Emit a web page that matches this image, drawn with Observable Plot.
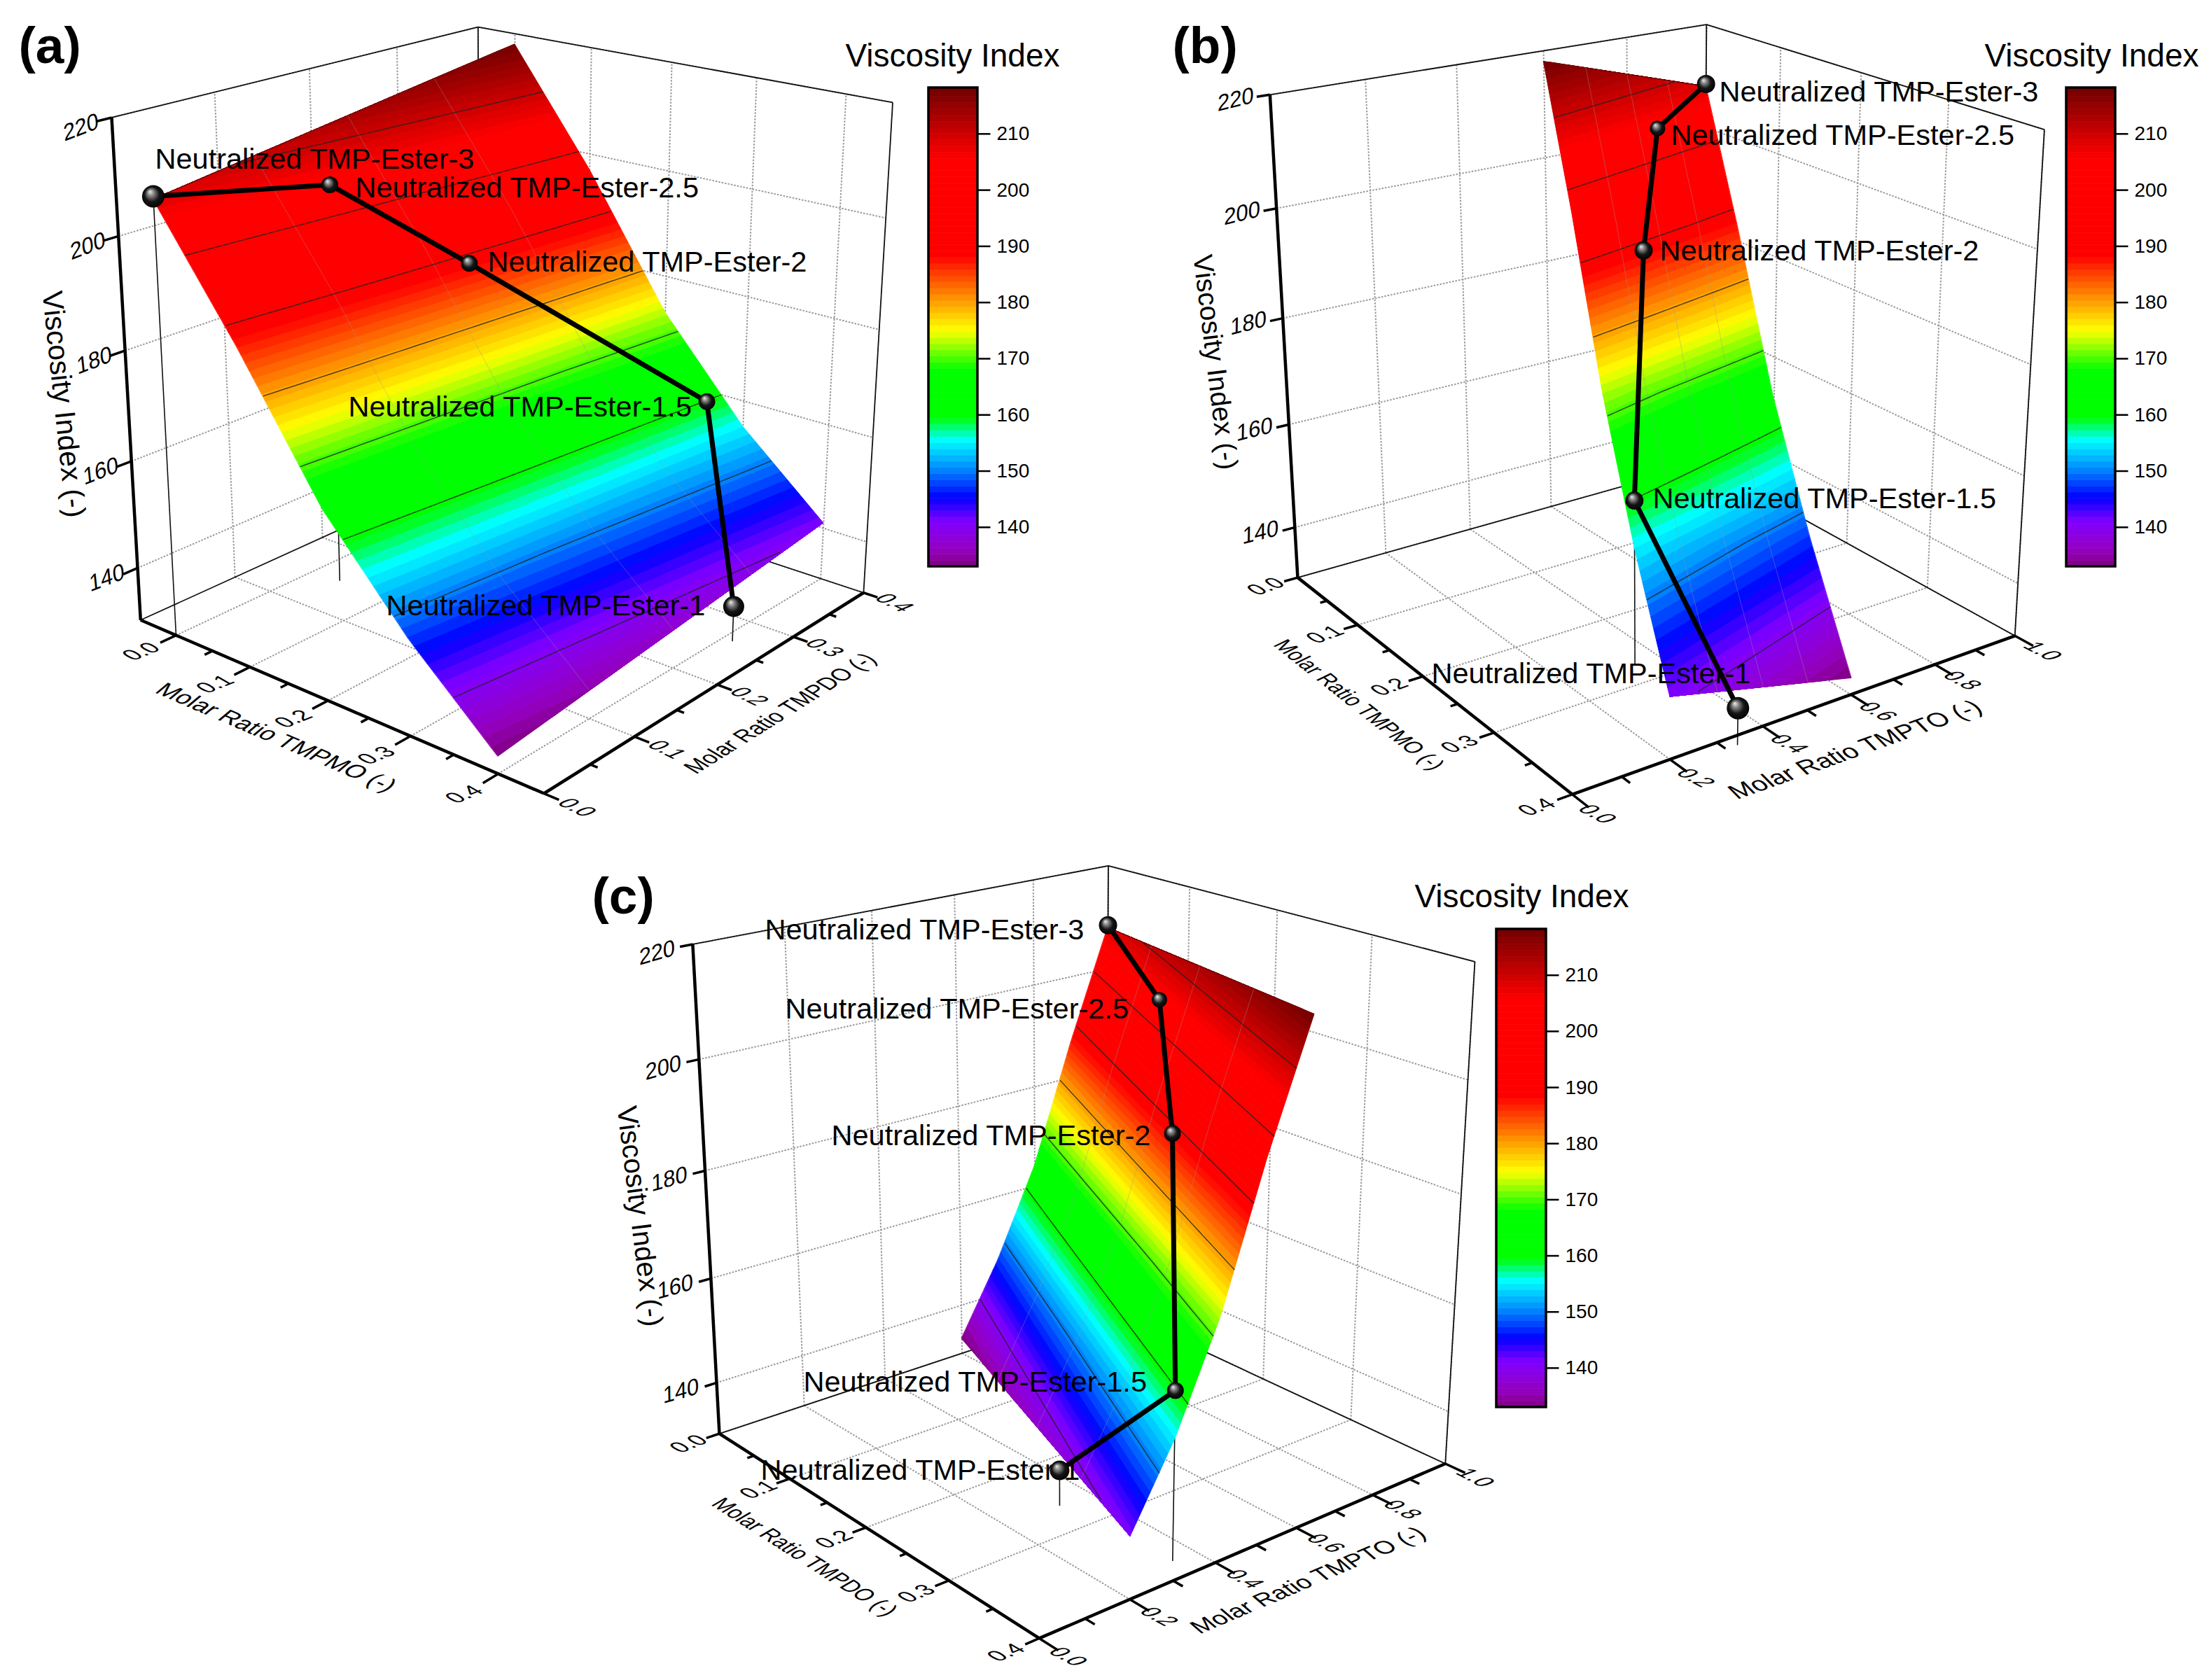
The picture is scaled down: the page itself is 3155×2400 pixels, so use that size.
<!DOCTYPE html>
<html><head><meta charset="utf-8">
<script src="https://cdn.jsdelivr.net/npm/d3@7"></script>
<script src="https://cdn.jsdelivr.net/npm/@observablehq/plot@0.6"></script>
<style>body{margin:0;background:#fff}#c{position:relative;width:3155px;height:2400px}</style>
</head><body><div id="c"></div>
<script>
const ratioTMPMO=[0,0.1,0.2,0.3,0.4];
const ratioTMPDO=[0,0.1,0.2,0.3,0.4];
const surfaceVI=[[208,210.5,213,215.5,218],[187,189.5,192,194.5,197],[164,166.25,168.5,170.75,173],[147,149,151,153,155],[133,135,137,139,141]];
const esterNames=["Neutralized TMP-Ester-1","Neutralized TMP-Ester-1.5","Neutralized TMP-Ester-2","Neutralized TMP-Ester-2.5","Neutralized TMP-Ester-3"];
const esterTMPMO=[0.411,0.273,0.111,0.036,0];
const esterTMPDO=[0.264,0.379,0.239,0.149,0];
const esterTMPTO=[0.324,0.346,0.648,0.813,1];
const esterVI=[136.6,160.1,188.1,204.3,208.5];
const viTicks=[140,160,180,200,220];
const legendTicks=[140,150,160,170,180,190,200,210];
const contourLevels=[140,150,160,170,180,190,200,210];
const rampStops=[133,136,141,145.3,150,155.5,159.5,168,175,180,188.3,205.5,218.2];
const rampColors=["#800080","#9500c0","#8000ff","#0000ff","#0080ff","#00ffff","#00ff00","#00ff00","#ffff00","#ffa000","#ff0000","#ff0000","#700000"];
const ramp=d3.scaleLinear().domain(rampStops).range(rampColors).interpolate(d3.interpolateRgb);
const bandStep=1.1, viMin=133, viMax=218.2;
const FONT="Liberation Sans";

function solve(A,b){const n=b.length;A=A.map((r,i)=>[...r,b[i]]);for(let i=0;i<n;i++){let p=i;for(let k=i+1;k<n;k++)if(Math.abs(A[k][i])>Math.abs(A[p][i]))p=k;[A[i],A[p]]=[A[p],A[i]];for(let k=i+1;k<n;k++){const f=A[k][i]/A[i][i];for(let j=i;j<=n;j++)A[k][j]-=f*A[i][j];}}const x=Array(n).fill(0);for(let i=n-1;i>=0;i--){let s=A[i][n];for(let j=i+1;j<n;j++)s-=A[i][j]*x[j];x[i]=s/A[i][i];}return x;}
function lsq(rows,rhs){const n=rows[0].length;const A=Array.from({length:n},()=>Array(n).fill(0)),b=Array(n).fill(0);rows.forEach((r,k)=>{for(let i=0;i<n;i++){b[i]+=r[i]*rhs[k];for(let j=0;j<n;j++)A[i][j]+=r[i]*r[j];}});return solve(A,b);}

function camera(p){
  const nx=u=>(u-p.uDom[0])/(p.uDom[1]-p.uDom[0]),ny=v=>(v-p.vDom[0])/(p.vDom[1]-p.vDom[0]),nz=w=>(w-p.wDom[0])/(p.wDom[1]-p.wDom[0]);
  const rows=[],rhs=[];
  for(const [u,v,w,x,y] of p.calib){const X=nx(u),Y=ny(v),Z=nz(w);
    rows.push([X,Y,Z,1,0,0,0,0,-x/1000*X,-x/1000*Y,-x/1000*Z]);rhs.push(x/1000);
    rows.push([0,0,0,0,X,Y,Z,1,-y/1000*X,-y/1000*Y,-y/1000*Z]);rhs.push(y/1000);}
  const c=lsq(rows,rhs);
  return (u,v,w)=>{const X=nx(u),Y=ny(v),Z=nz(w),d=c[8]*X+c[9]*Y+c[10]*Z+1;
    return [1000*(c[0]*X+c[1]*Y+c[2]*Z+c[3])/d,1000*(c[4]*X+c[5]*Y+c[6]*Z+c[7])/d];};
}
const panels=[
{letter:"(a)",letterAt:[26,66],uName:"Molar Ratio TMPMO (-)",vName:"Molar Ratio TMPDO (-)",
 uDom:[-0.05,0.45],vDom:[0,0.4],wDom:[130,220],uTicks:[0,0.1,0.2,0.3,0.4],uMinor:[0.05,0.15,0.25,0.35],vTicks:[0,0.1,0.2,0.3,0.4],vMinor:[0.05,0.15,0.25,0.35],
 map:(M,D,T)=>[M,D],tickU:0.016,tickV:0.016,labU:0.035,labV:0.035,titleU:0.526,titleV:-0.07,zLab:[-44,14],zRot:-21,uLabRot:-22,vLabRot:26,
 uSkew:-27,vSkew:27,uT:[35,26,0,1],vT:[36,-10,4,0.83],zTitle:[90,577,84,41],legend:{x1:1326,x2:1396,y1:125,y2:809,tx:1360,ty:80},
 calib:[[-0.05,0,130,199,885],[0.45,0,130,775,1139],[0.45,0.4,130,1235,847],[-0.05,0,220,158,169],[-0.05,0.4,220,682,36],[0.45,0.4,220,1275,147],
  [0,0,130,250,908],[0.2,0,130,469,998],[0.4,0,130,708,1098],[0.45,0.2,130,1025,980],[-0.05,0,200,168,336],[-0.05,0,180,179,500],[-0.05,0,160,189,660],[-0.05,0,140,197,813],
  [0,0.4,218,735,65],[0.4,0.4,141,1173,744],[0.4,0,133,714,1080],[0,0,208,219,282]],
 r:[15,12,12,12,16],
 labelAt:[[551,865],[497,581],[696,374],[507,268],[221,227]]},
{letter:"(b)",letterAt:[1674,66],uName:"Molar Ratio TMPMO (-)",vName:"Molar Ratio TMPTO (-)",
 uDom:[0,0.4],vDom:[0,1],wDom:[130,220],uTicks:[0,0.1,0.2,0.3,0.4],uMinor:[0.05,0.15,0.25,0.35],vTicks:[0,0.2,0.4,0.6,0.8,1],vMinor:[0.1,0.3,0.5,0.7,0.9],
 map:(M,D,T)=>[M,T],tickU:0.02,tickV:0.03,labU:0.03,labV:0.07,titleU:0.47,titleV:-0.15,zLab:[-49,7],zRot:-14,uLabRot:-20,vLabRot:28,
 uSkew:-26,vSkew:25,uT:[35,12,8,0.8],vT:[37,-22,-2,1],zTitle:[1735,517,83,39],legend:{x1:2951,x2:3021,y1:125,y2:809,tx:2987,ty:80},
 calib:[[0,0,130,1853,824],[0.4,0,130,2245,1133],[0.4,1,130,2874,908],[0,0,220,1813,134],[0,1,220,2436,38],[0.4,1,220,2919,183],
  [0,0,200,1823,298],[0,0,180,1830,454],[0,0,160,1841,607],[0,0,140,1848,752],
  [0,1,208,2438,118],[0,0.6,218,2205,90],[0.4,0.6,133,2641,969],[0.4,0.2,141,2383,996],
  [0.4,0.2,130,2388,1083],[0.4,0.4,130,2517,1038],[0.4,0.6,130,2646,992],[0.4,0.8,130,2765,950]],
 r:[16,13,13,11,13],
 labelAt:[[2044,962],[2360,712],[2370,358],[2386,193],[2455,131]]},
{letter:"(c)",letterAt:[845,1281],uName:"Molar Ratio TMPDO (-)",vName:"Molar Ratio TMPTO (-)",
 uDom:[0,0.4],vDom:[0,1],wDom:[130,220],uTicks:[0,0.1,0.2,0.3,0.4],uMinor:[0.05,0.15,0.25,0.35],vTicks:[0,0.2,0.4,0.6,0.8,1],vMinor:[0.1,0.3,0.5,0.7,0.9],
 map:(M,D,T)=>[D,T],tickU:0.02,tickV:0.03,labU:0.03,labV:0.07,titleU:0.466,titleV:-0.155,zLab:[-51,12],zRot:-16,uLabRot:-22,vLabRot:28,
 uSkew:-27,vSkew:26,uT:[35,14,4,0.83],vT:[35,-20,0,1],zTitle:[913,1737,83,40],legend:{x1:2137,x2:2208,y1:1327,y2:2010,tx:2173,ty:1281},
 calib:[[0,0,130,1027,2045],[0.4,0,130,1482,2341],[0.4,1,130,2062,2089],[0,0,220,989,1347],[0,1,220,1582,1238],[0.4,1,220,2106,1375],
  [0,0,200,997,1513],[0,0,180,1007,1673],[0,0,160,1017,1827],[0,0,140,1023,1978],
  [0,1,208,1582,1322],[0.4,0.6,218,1877,1448],[0,0.6,133,1373,1913],[0.4,0.2,141,1614,2192],
  [0.4,0.2,130,1616,2283],[0.4,0.4,130,1734,2234],[0.4,0.6,130,1851,2184],[0.4,0.8,130,1963,2135],[0.2,0,130,1234,2180]],
 r:[14,12,12,11,13],
 labelAt:[[1086,2100],[1147,1974],[1187,1622],[1121,1441],[1092,1328]]}
];
panels.forEach(p=>p.proj=camera(p));

function columnAt(D){const d=Math.min(3.999,Math.max(0,D*10)),j=Math.floor(d),b=d-j;return surfaceVI.map(r=>r[j]*(1-b)+r[j+1]*b);}
function viAt(M,D){const c=columnAt(D),m=Math.min(3.999,Math.max(0,M*10)),i=Math.floor(m),a=m-i;return c[i]*(1-a)+c[i+1]*a;}
function mAt(D,L){const c=columnAt(D);if(L>=c[0])return 0;if(L<=c[4])return 0.4;
  for(let i=0;i<4;i++){if(L<=c[i]&&L>=c[i+1])return ratioTMPMO[i]+(c[i]-L)/(c[i]-c[i+1])*0.1;}return 0.4;}
const dCols=d3.range(0,41).map(i=>i*0.01);
const bandEdges=d3.range(viMin,viMax,bandStep).concat([viMax]);
function sp(p,M,D,VI){const [u,v]=p.map(M,D,1-M-D);return p.proj(u,v,VI);}
const seg=(a,b,extra={})=>({x1:a[0],y1:a[1],x2:b[0],y2:b[1],...extra});

const marks=[];
const skews=[];
function skewClass(k,sy,sx=1){skews.push([k,sy,sx]);return "tx"+(skews.length-1);}
function defsMark(){const ns="http://www.w3.org/2000/svg";const g=document.createElementNS(ns,"g");
 g.innerHTML='<defs><radialGradient id="sphere" cx="50%" cy="50%" r="55%" fx="35%" fy="28%"><stop offset="0%" stop-color="#eeeeee"/><stop offset="25%" stop-color="#8a8a8a"/><stop offset="60%" stop-color="#151515"/><stop offset="100%" stop-color="#000"/></radialGradient></defs>';return g;}
marks.push(defsMark);
for(const p of panels){
  const P=p.proj,[u0,u1]=p.uDom,[v0,v1]=p.vDom,[w0,w1]=p.wDom;
  const grid=[];
  for(const w of viTicks){grid.push(seg(P(u0,v0,w),P(u0,v1,w)),seg(P(u0,v1,w),P(u1,v1,w)));}
  for(const u of p.uTicks){grid.push(seg(P(u,v1,w0),P(u,v1,w1)),seg(P(u,v0,w0),P(u,v1,w0)));}
  for(const v of p.vTicks){grid.push(seg(P(u0,v,w0),P(u0,v,w1)),seg(P(u0,v,w0),P(u1,v,w0)));}
  marks.push(Plot.link(grid,{x1:"x1",y1:"y1",x2:"x2",y2:"y2",stroke:"#9a9a9a",strokeWidth:2,strokeDasharray:"2.5,2"}));
  const frame=[seg(P(u0,v0,w0),P(u0,v1,w0)),seg(P(u0,v1,w0),P(u1,v1,w0)),seg(P(u0,v0,w1),P(u0,v1,w1)),seg(P(u0,v1,w1),P(u1,v1,w1)),seg(P(u1,v1,w1),P(u1,v1,w0)),seg(P(u0,v1,w0),P(u0,v1,w1))];
  marks.push(Plot.link(frame,{x1:"x1",y1:"y1",x2:"x2",y2:"y2",stroke:"#111",strokeWidth:1.8}));
  const drops=esterNames.map((n,i)=>{const [u,v]=p.map(esterTMPMO[i],esterTMPDO[i],esterTMPTO[i]);return seg(P(u,v,esterVI[i]),P(u,v,w0));});
  marks.push(Plot.link(drops,{x1:"x1",y1:"y1",x2:"x2",y2:"y2",stroke:"#111",strokeWidth:1.6}));
  const rows=[];
  bandEdges.slice(0,-1).forEach((L,i)=>{const H=bandEdges[i+1],color=ramp((L+H)/2);
    for(const D of dCols){const mL=mAt(D,L),mH=mAt(D,H);const a=sp(p,mL,D,viAt(mL,D)),b=sp(p,mH,D,viAt(mH,D));
      rows.push({band:i,color,x1:a[0],y1:a[1],x2:b[0],y2:b[1]});}});
  marks.push(Plot.area(rows,{x1:"x1",y1:"y1",x2:"x2",y2:"y2",z:"band",fill:"color",stroke:"color",strokeWidth:1}));
  const mesh=[];
  ratioTMPDO.slice(1,-1).forEach(D=>{d3.range(0,40).forEach(i=>{const m=i*0.01,n=m+0.01;mesh.push(seg(sp(p,m,D,viAt(m,D)),sp(p,n,D,viAt(n,D))));});});
  marks.push(Plot.link(mesh,{x1:"x1",y1:"y1",x2:"x2",y2:"y2",stroke:"#999",strokeOpacity:0.4,strokeWidth:1}));
  const cont=[];
  for(const L of contourLevels){for(let i=0;i<40;i++){const D=dCols[i],E=dCols[i+1];const a=mAt(D,L),b=mAt(E,L);
    if(Math.abs(viAt(a,D)-L)>0.01||Math.abs(viAt(b,E)-L)>0.01)continue;cont.push(seg(sp(p,a,D,L),sp(p,b,E,L)));}}
  marks.push(Plot.link(cont,{x1:"x1",y1:"y1",x2:"x2",y2:"y2",stroke:"#222",strokeOpacity:0.8,strokeWidth:1.5}));
  marks.push(Plot.link([seg(P(u0,v0,w0),P(u0,v0,w1)),seg(P(u0,v0,w0),P(u1,v0,w0)),seg(P(u1,v0,w0),P(u1,v1,w0))],{x1:"x1",y1:"y1",x2:"x2",y2:"y2",stroke:"#000",strokeWidth:4.5}));
  const ticks=[];
  p.uTicks.forEach(u=>ticks.push(seg(P(u,v0,w0),P(u,v0-p.tickV,w0))));
  p.uMinor.forEach(u=>ticks.push(seg(P(u,v0,w0),P(u,v0-p.tickV*0.5,w0))));
  p.vTicks.forEach(v=>ticks.push(seg(P(u1,v,w0),P(u1+p.tickU,v,w0))));
  p.vMinor.forEach(v=>ticks.push(seg(P(u1,v,w0),P(u1+p.tickU*0.5,v,w0))));
  viTicks.forEach(w=>ticks.push(seg(P(u0,v0,w),P(u0,v0-p.tickV*0.9,w))));
  marks.push(Plot.link(ticks,{x1:"x1",y1:"y1",x2:"x2",y2:"y2",stroke:"#000",strokeWidth:3.5}));
  const txt=(rows,o)=>Plot.text(rows,{x:"x",y:"y",text:"t",fontFamily:FONT,fill:"#000",...o});
  marks.push(txt(p.uTicks.map(u=>{const q=P(u,v0-p.labV,w0);return {x:q[0],y:q[1],t:u.toFixed(1)};}),{fontSize:32,rotate:p.uLabRot,className:skewClass(38,0.8)}));
  marks.push(txt(p.vTicks.map(v=>{const q=P(u1+p.labU,v,w0);return {x:q[0],y:q[1],t:v.toFixed(1)};}),{fontSize:32,rotate:p.vLabRot,className:skewClass(-42,0.8)}));
  marks.push(txt(viTicks.map(w=>{const q=P(u0,v0,w);return {x:q[0]+p.zLab[0],y:q[1]+p.zLab[1],t:String(w)};}),{fontSize:32,rotate:p.zRot,className:skewClass(-15,1)}));
  const slope=(a,b)=>Math.atan2(b[1]-a[1],b[0]-a[0])*180/Math.PI;
  const tu=P(0.2,p.titleV,w0), tv=P(p.titleU,(v0+v1)/2,w0);
  marks.push(txt([{x:tu[0]+p.uT[1],y:tu[1]+p.uT[2],t:p.uName}],{fontSize:p.uT[0],rotate:slope(P(u0,v0,w0),P(u1,v0,w0)),className:skewClass(p.uSkew,0.85,p.uT[3])}));
  marks.push(txt([{x:tv[0]+p.vT[1],y:tv[1]+p.vT[2],t:p.vName}],{fontSize:p.vT[0],rotate:slope(P(u1,v0,w0),P(u1,v1,w0)),className:skewClass(p.vSkew,0.85,p.vT[3])}));
  marks.push(txt([{x:p.zTitle[0],y:p.zTitle[1],t:"Viscosity Index (-)"}],{fontSize:p.zTitle[3],rotate:p.zTitle[2]}));
  marks.push(txt([{x:p.letterAt[0],y:p.letterAt[1],t:p.letter}],{fontSize:73,fontWeight:"bold",textAnchor:"start"}));
  const path=esterNames.map((n,i)=>{const [u,v]=p.map(esterTMPMO[i],esterTMPDO[i],esterTMPTO[i]);const q=P(u,v,esterVI[i]);return {x:q[0],y:q[1],r:p.r[i],t:n,lx:p.labelAt[i][0],ly:p.labelAt[i][1]};});
  marks.push(Plot.line(path,{x:"x",y:"y",stroke:"#000",strokeWidth:7}));
  marks.push(Plot.text(path,{x:"lx",y:"ly",text:"t",fontFamily:FONT,fontSize:41.5,textAnchor:"start",fill:"#000"}));
  marks.push(Plot.dot(path,{x:"x",y:"y",r:"r",fill:"url(#sphere)",stroke:"none"}));
  const L=p.legend,cb=d3.scaleLinear().domain([viMax,viMin]).range([L.y1,L.y2]);
  const bars=bandEdges.slice(0,-1).map((a,i)=>({x1:L.x1,x2:L.x2,y1:cb(bandEdges[i+1]),y2:cb(a),color:ramp((a+bandEdges[i+1])/2)}));
  marks.push(Plot.rect(bars,{x1:"x1",x2:"x2",y1:"y1",y2:"y2",fill:"color",stroke:"color",strokeWidth:0.6}));
  marks.push(Plot.rect([{x1:L.x1,x2:L.x2,y1:L.y1,y2:L.y2}],{x1:"x1",x2:"x2",y1:"y1",y2:"y2",fill:"none",stroke:"#000",strokeWidth:3.5}));
  marks.push(Plot.link(legendTicks.map(v=>seg([L.x2,cb(v)],[L.x2+18,cb(v)])),{x1:"x1",y1:"y1",x2:"x2",y2:"y2",stroke:"#000",strokeWidth:2.5}));
  marks.push(txt(legendTicks.map(v=>({x:L.x2+27,y:cb(v),t:String(v)})),{fontSize:28,textAnchor:"start"}));
  marks.push(txt([{x:L.tx,y:L.ty,t:"Viscosity Index"}],{fontSize:46}));
}
const chart=Plot.plot({width:3155,height:2400,margin:0,x:{domain:[0,3155],axis:null},y:{domain:[2400,0],axis:null},color:{type:"identity"},r:{type:"identity"},style:{background:"#fff",fontFamily:FONT},marks});
skews.forEach(([k,sy,sx],i)=>{chart.querySelectorAll(".tx"+i+" text").forEach(t=>{t.setAttribute("transform",(t.getAttribute("transform")||"")+` skewX(${k}) scale(${sx},${sy})`);});});
document.getElementById("c").appendChild(chart);
</script></body></html>
